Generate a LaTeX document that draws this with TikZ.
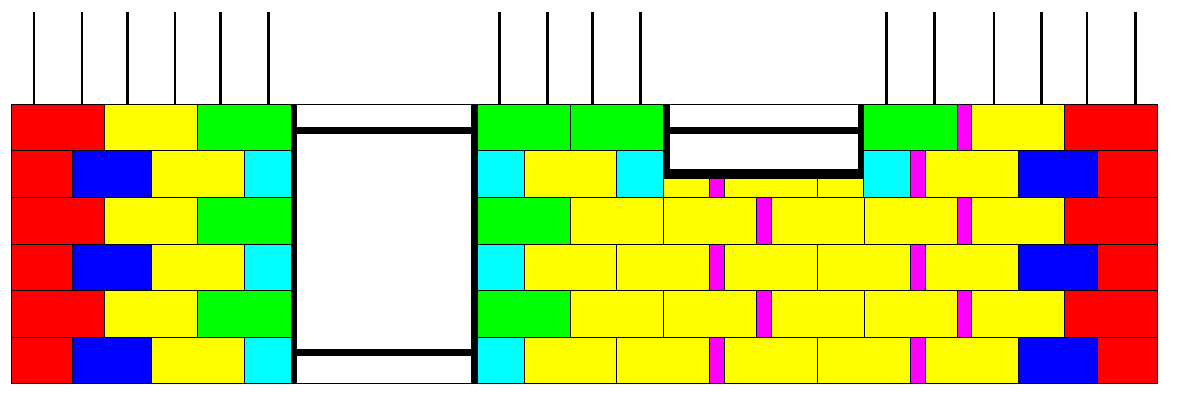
\documentclass[tikz,border=0pt]{standalone}
\definecolor{cR}{RGB}{255,0,0}
\definecolor{cY}{RGB}{255,255,0}
\definecolor{cG}{RGB}{0,255,0}
\definecolor{cB}{RGB}{0,0,255}
\definecolor{cC}{RGB}{0,255,255}
\definecolor{cM}{RGB}{255,0,255}
\tikzset{
  brick/.style={draw=black,line width=0.9pt},
  wallframe/.style={fill=black,draw=none},
  pile/.style={draw=black,line width=2.4pt},
  outline/.style={draw=black,line width=1pt}
}
\newcommand{\brk}[5]{\fill[#5] (#1,#3) rectangle (#2,#4); \draw[brick] (#1,#3) rectangle (#2,#4);}
% row with top #1 bottom #2 : list of x0/x1/colour
\newcommand{\brkrow}[3]{\foreach \xa/\xb/\cc in {#3} {\brk{\xa}{\xb}{#1}{#2}{\cc}}}
\newcommand{\rowA}[2]{\brkrow{#1}{#2}{12/105/cR,105/198/cY,198/291.5/cG,478/571/cG,571/664/cY,664/757/cY,757/771.5/cM,771.5/864.5/cY,864.5/957.5/cY,957.5/972/cM,972/1065/cY,1065/1158/cR}}
\newcommand{\rowB}[2]{\brkrow{#1}{#2}{12/72.5/cR,72.5/152/cB,152/245/cY,245/291.5/cC,478/524.5/cC,524.5/617/cY,617/710/cY,710/724.5/cM,724.5/818/cY,818/911/cY,911/925.5/cM,925.5/1018.5/cY,1018.5/1098/cB,1098/1158/cR}}
\begin{document}
\begin{tikzpicture}[x=1pt,y=-1pt]
\useasboundingbox (0,0) rectangle (1177,394);
\fill[white] (0,0) rectangle (1177,394);
\begin{scope}[xshift=-0.3pt,yshift=0pt]
% piles
\foreach \px in {34.3,82.3,127.8,175.3,220.8,268.8,499.8,547.8,592.8,640.8,886.8,934.8,994.3,1041.8,1087.3,1135.8}
  \draw[pile] (\px,12) -- (\px,104);
% first course
\brkrow{104}{150.7}{12/105/cR,105/198/cY,198/291.5/cG,478/571/cG,571/664/cG,864/957.5/cG,957.5/972/cM,972/1065/cY,1065/1158/cR}
% second course
\brkrow{150.7}{197.3}{12/72.5/cR,72.5/152/cB,152/245/cY,245/291.5/cC,478/524.5/cC,524.5/617/cY,617/664/cC,864/911/cC,911/925.5/cM,925.5/1018.5/cY,1018.5/1098/cB,1098/1158/cR}
% course under the small opening
\brkrow{175}{197.3}{664/710/cY,710/724.5/cM,724.5/818/cY,818/864/cY}
\rowA{197.3}{244}
\rowB{244}{290.5}
\rowA{290.5}{337}
\rowB{337}{383.5}
% outer top and bottom lines
\draw[outline] (12,104) -- (1158,104);
\draw[outline] (12,383.5) -- (1158,383.5);
% large opening
\fill[wallframe] (291.7,104) rectangle (297.7,383.5);
\fill[wallframe] (471.2,104) rectangle (478,383.5);
\fill[wallframe] (297,127.3) rectangle (471.5,133.7);
\fill[wallframe] (297,349.3) rectangle (471.5,355.7);
% small opening
\fill[wallframe] (663.5,104) rectangle (670,179);
\fill[wallframe] (858.3,104) rectangle (864.3,179);
\fill[wallframe] (663.5,169.3) rectangle (864.3,179);
\fill[wallframe] (670,127.3) rectangle (858.3,133.7);
\end{scope}
\end{tikzpicture}
\end{document}
